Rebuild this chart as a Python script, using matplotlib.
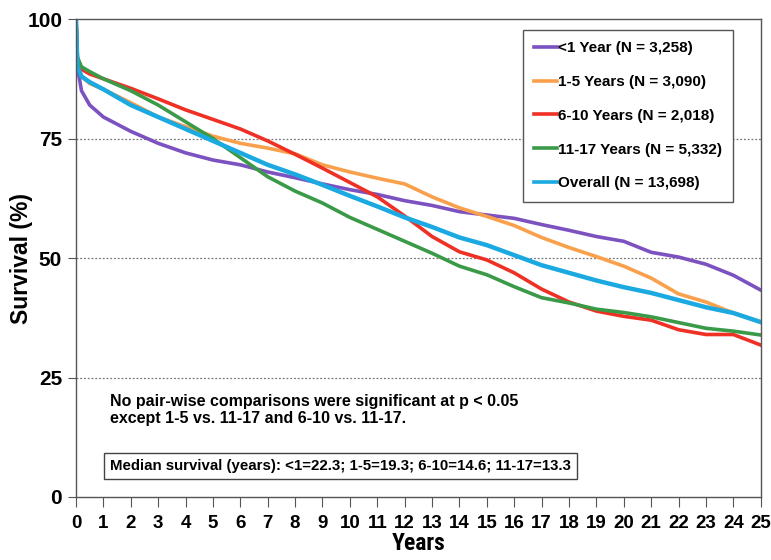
import matplotlib
matplotlib.use("Agg")
import matplotlib.pyplot as plt
from matplotlib.lines import Line2D

years = [0, 0.05, 0.2, 0.5, 1, 2, 3, 4, 5, 6, 7, 8, 9, 10, 11, 12, 13,
         14, 15, 16, 17, 18, 19, 20, 21, 22, 23, 24, 25]

lt1 = [100, 90, 85, 82, 79.5, 76.5, 74, 72, 70.5, 69.5, 68, 66.8, 65.5, 64.3,
       63.3, 62, 61, 59.7, 59, 58.3, 57, 55.8, 54.5, 53.5, 51.2, 50.2, 48.7, 46.4, 43.3]
y1_5 = [100, 91, 88, 86.5, 85.3, 82.5, 79.5, 77.5, 75.5, 74, 73, 71.8, 69.5, 68,
        66.7, 65.5, 62.8, 60.5, 58.7, 56.8, 54.3, 52.2, 50.3, 48.3, 45.8, 42.5, 40.8, 38.5, 36.6]
y6_10 = [100, 92, 89.5, 88.5, 87.5, 85.5, 83.3, 81, 79, 77, 74.5, 71.7, 68.8, 65.8,
         62.8, 58.8, 54.5, 51.3, 49.6, 46.9, 43.5, 40.8, 38.9, 37.8, 37, 35, 34, 34, 31.8]
y11_17 = [100, 92, 90, 89, 87.5, 85, 82, 78.5, 75, 71, 67, 64, 61.5, 58.5,
          56, 53.5, 51, 48.3, 46.5, 44, 41.7, 40.6, 39.3, 38.6, 37.7, 36.5, 35.3, 34.7, 33.9]
overall = [100, 90, 88, 86.8, 85.3, 82, 79.5, 77, 74.5, 72, 69.5, 67.5, 65.3, 63,
           60.8, 58.5, 56.5, 54.3, 52.7, 50.6, 48.5, 46.9, 45.3, 43.9, 42.7, 41.2, 39.7, 38.5, 36.6]

labels = ["<1 Year (N = 3,258)", "1-5 Years (N = 3,090)", "6-10 Years (N = 2,018)",
          "11-17 Years (N = 5,332)", "Overall (N = 13,698)"]
colors = ["#7b52c0", "#f9a04c", "#ee3124", "#3b9a48", "#1ba9e1"]
widths = [2.6, 2.6, 2.6, 2.6, 3.2]
series = [lt1, y1_5, y6_10, y11_17, overall]

xticks = list(range(0, 26))
yticks = [0, 25, 50, 75, 100]

narrow = ['Roboto Condensed', 'Barlow Semi Condensed', 'DejaVu Sans']
arial = ['Liberation Sans', 'DejaVu Sans']

fig = plt.figure(figsize=(7.71, 5.60), dpi=100)
ax = fig.add_axes([0.0986, 0.1125, 0.888, 0.8535])

for ys, c, lw, lab in zip(series, colors, widths, labels):
    ax.plot(years, ys, color=c, lw=lw, label=lab, solid_joinstyle='round')

ax.set_xlim(0, 25)
ax.set_ylim(0, 100)
ax.set_xticks(xticks)
ax.set_yticks(yticks)
ax.set_xticklabels([str(t) for t in xticks], fontsize=13.5, fontweight='bold', family=arial)
ax.set_yticklabels([str(t) for t in yticks], fontsize=15, fontweight='bold', family=arial)
ax.tick_params(axis='x', direction='out', length=7, color='#555555', pad=6)
ax.tick_params(axis='y', direction='out', length=6, color='#555555', pad=4)
for y in [25, 50, 75]:
    ax.axhline(y, color='#777777', lw=0.9, ls=(0, (1.5, 1.5)), zorder=0)
for s in ax.spines.values():
    s.set_color('#555555')
    s.set_linewidth(1.0)

ax.set_xlabel("Years", fontsize=17, fontweight='bold', family=narrow, labelpad=0)
ax.set_ylabel("Survival (%)", fontsize=16.5, fontweight='bold', family=arial)
ax.yaxis.set_label_coords(-0.063, 0.5)

handles = [Line2D([0], [0], color=c, lw=2.6) for c in colors]
leg = ax.legend(handles, labels, loc='upper right', bbox_to_anchor=(0.960, 0.978),
                prop={'family': arial, 'weight': 'bold', 'size': 11},
                handlelength=1.5, handletextpad=0.05, labelspacing=1.3,
                borderpad=0.75, borderaxespad=0, fancybox=False, framealpha=1,
                edgecolor='#555555')
leg.get_frame().set_linewidth(1.0)

ax.text(1.24, 18.2, "No pair-wise comparisons were significant at p < 0.05\nexcept 1-5 vs. 11-17 and 6-10 vs. 11-17.",
        fontsize=11.5, fontweight='bold', family=arial, va='center', ha='left', linespacing=1.15)
ax.text(1.24, 6.4, "Median survival (years): <1=22.3; 1-5=19.3; 6-10=14.6; 11-17=13.3",
        fontsize=10.8, fontweight='bold', family=arial, va='center', ha='left',
        bbox=dict(boxstyle='square,pad=0.4', fc='white', ec='#444444', lw=1.0))

fig.savefig("out.png", dpi=100)
